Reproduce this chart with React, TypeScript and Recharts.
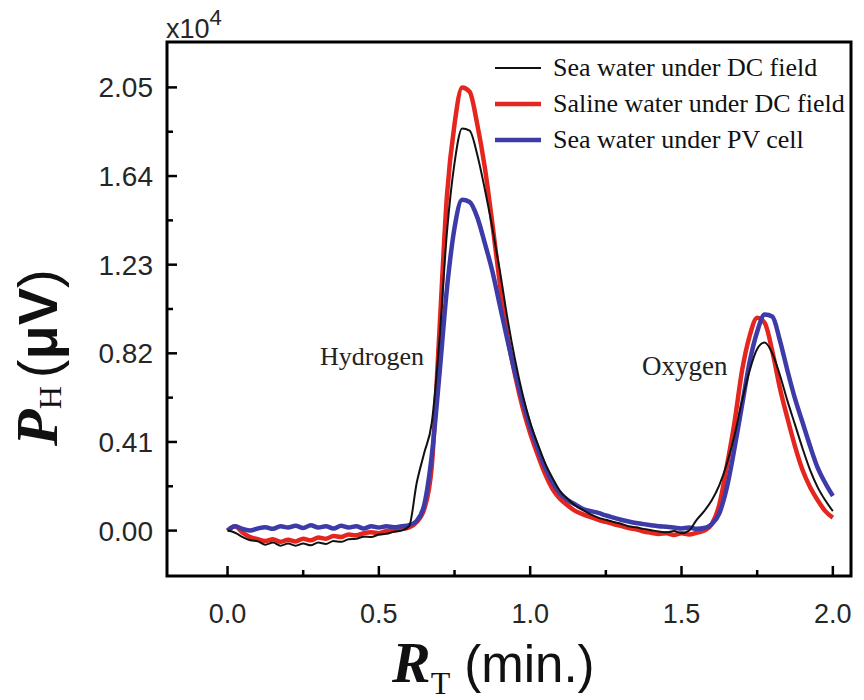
import { LineChart, Line, XAxis, YAxis, ReferenceArea, Legend } from "recharts";

// retention time (min.)
const RT_MIN = [
  0, 0.025, 0.05, 0.075, 0.1, 0.125, 0.15, 0.175, 0.2, 0.225, 0.25, 0.275, 0.3, 0.325, 0.35, 0.375,
  0.4, 0.425, 0.45, 0.475, 0.5, 0.525, 0.55, 0.575, 0.6, 0.625, 0.65, 0.675, 0.7, 0.725, 0.75, 0.775,
  0.8, 0.825, 0.85, 0.875, 0.9, 0.925, 0.95, 0.975, 1, 1.025, 1.05, 1.075, 1.1, 1.125, 1.15, 1.175,
  1.2, 1.225, 1.25, 1.275, 1.3, 1.325, 1.35, 1.375, 1.4, 1.425, 1.45, 1.475, 1.5, 1.525, 1.55, 1.575,
  1.6, 1.625, 1.65, 1.675, 1.7, 1.725, 1.75, 1.775, 1.8, 1.825, 1.85, 1.875, 1.9, 1.925, 1.95, 1.975, 2,
];

// peak height, x10^4 µV
const SEA_DC = [
  0, -0.01, -0.03, -0.045, -0.05, -0.065, -0.055, -0.07, -0.06, -0.07, -0.06, -0.068, -0.055, -0.062, -0.048, -0.052,
  -0.04, -0.038, -0.028, -0.03, -0.018, -0.015, -0.005, 0, 0.02, 0.22, 0.36, 0.5, 0.88, 1.38, 1.7, 1.86,
  1.85, 1.74, 1.58, 1.4, 1.2, 0.98, 0.79, 0.63, 0.5, 0.4, 0.31, 0.24, 0.18, 0.145, 0.115, 0.095,
  0.075, 0.06, 0.05, 0.04, 0.032, 0.02, 0.015, 0.008, 0.002, -0.004, -0.008, -0.002, -0.012, 0, 0.05, 0.09,
  0.14, 0.21, 0.31, 0.44, 0.6, 0.74, 0.84, 0.87, 0.82, 0.72, 0.6, 0.49, 0.38, 0.28, 0.2, 0.14, 0.09,
];

const SALINE_DC = [
  0, 0.02, -0.01, -0.03, -0.04, -0.048, -0.04, -0.052, -0.042, -0.05, -0.038, -0.045, -0.032, -0.038, -0.025, -0.03,
  -0.018, -0.022, -0.012, -0.008, -0.012, -0.002, 0, 0.008, 0.015, 0.04, 0.1, 0.3, 0.92, 1.55, 1.88, 2.05,
  2.03, 1.88, 1.68, 1.42, 1.14, 0.9, 0.72, 0.57, 0.45, 0.35, 0.26, 0.19, 0.145, 0.115, 0.09, 0.075,
  0.062, 0.05, 0.04, 0.03, 0.022, 0.012, 0.006, -0.004, -0.01, -0.016, -0.012, -0.02, -0.012, -0.018, -0.01, 0,
  0.03, 0.12, 0.3, 0.5, 0.74, 0.9, 0.985, 0.96, 0.83, 0.66, 0.52, 0.39, 0.28, 0.2, 0.14, 0.09, 0.06,
];

const SEA_PV = [
  0, 0.02, 0.008, 0, 0.01, 0.016, 0.008, 0.02, 0.014, 0.022, 0.012, 0.025, 0.014, 0.02, 0.01, 0.022,
  0.014, 0.02, 0.01, 0.02, 0.014, 0.02, 0.015, 0.02, 0.025, 0.045, 0.12, 0.35, 0.72, 1.12, 1.4, 1.53,
  1.52, 1.45, 1.33, 1.2, 1.04, 0.88, 0.73, 0.6, 0.48, 0.38, 0.29, 0.22, 0.17, 0.14, 0.12, 0.1,
  0.09, 0.082, 0.07, 0.06, 0.05, 0.042, 0.035, 0.03, 0.025, 0.02, 0.018, 0.014, 0.01, 0.014, 0.008, 0.012,
  0.03, 0.08, 0.2, 0.38, 0.58, 0.78, 0.92, 1, 0.99, 0.88, 0.74, 0.61, 0.5, 0.39, 0.29, 0.22, 0.16,
];

const X_TICKS = [0, 0.25, 0.5, 0.75, 1, 1.25, 1.5, 1.75, 2];
const Y_TICKS = [0, 0.205, 0.41, 0.615, 0.82, 1.025, 1.23, 1.435, 1.64, 1.845, 2.05];

const SERIES = [
  { key: "seaDC", name: "Sea water under DC field", color: "#111111", width: 2 },
  { key: "salineDC", name: "Saline water under DC field", color: "#e5261f", width: 4.5 },
  { key: "seaPV", name: "Sea water under PV cell", color: "#3d3ba8", width: 4.5 },
];
// drawing order: red under blue under black
const DRAW_ORDER = ["salineDC", "seaPV", "seaDC"];

const data = RT_MIN.map((t, i) => ({
  t,
  seaDC: SEA_DC[i],
  salineDC: SALINE_DC[i],
  seaPV: SEA_PV[i],
}));

const SANS = "'Liberation Sans', Arial, sans-serif";
const SERIF = "'Liberation Serif', 'Times New Roman', serif";

function XTick(props: any) {
  const { x, y, index, payload } = props;
  const major = index % 2 === 0;
  return (
    <g>
      <line x1={x} x2={x} y1={y} y2={y - (major ? 10 : 6)} stroke="#000" strokeWidth={2.5} />
      {major && (
        <text x={x} y={y + 47} textAnchor="middle" fontFamily={SANS} fontSize={27} fill="#262626">
          {Number(payload.value).toFixed(1)}
        </text>
      )}
    </g>
  );
}

function YTick(props: any) {
  const { x, y, index, payload } = props;
  const major = index % 2 === 0;
  return (
    <g>
      <line x1={x} x2={x + (major ? 10 : 6)} y1={y} y2={y} stroke="#000" strokeWidth={2.5} />
      {major && (
        <text x={x - 14} y={y} dy="0.36em" textAnchor="end" fontFamily={SANS} fontSize={28} fill="#262626">
          {Number(payload.value).toFixed(2)}
        </text>
      )}
    </g>
  );
}

function LegendBox() {
  return (
    <div style={{ fontFamily: SERIF, fontSize: 26, color: "#111" }}>
      {SERIES.map((s) => (
        <div key={s.key} style={{ display: "flex", alignItems: "center", height: 36 }}>
          <svg width={58} height={12}>
            <line x1={0} x2={46} y1={6} y2={6} stroke={s.color} strokeWidth={s.width} />
          </svg>
          <span style={{ whiteSpace: "nowrap" }}>{s.name}</span>
        </div>
      ))}
    </div>
  );
}

export default function App() {
  return (
    <div style={{ position: "absolute", left: 0, top: 0, width: 864, height: 700, background: "#fff" }}>
      <LineChart width={864} height={700} data={data} margin={{ top: 42, right: 13, left: 0, bottom: 0 }}>
        <XAxis
          dataKey="t"
          type="number"
          domain={[-0.2, 2.06]}
          ticks={X_TICKS}
          interval={0}
          height={124}
          tickSize={0}
          tickMargin={0}
          axisLine={false}
          tickLine={false}
          tick={<XTick />}
          allowDataOverflow
        />
        <YAxis
          type="number"
          domain={[-0.21, 2.26]}
          ticks={Y_TICKS}
          interval={0}
          width={167}
          tickSize={0}
          tickMargin={0}
          axisLine={false}
          tickLine={false}
          tick={<YTick />}
          allowDataOverflow
        />
        {DRAW_ORDER.map((k) => {
          const s = SERIES.find((e) => e.key === k)!;
          return (
            <Line
              key={s.key}
              dataKey={s.key}
              name={s.name}
              type="monotone"
              stroke={s.color}
              strokeWidth={s.width}
              dot={false}
              activeDot={false}
              isAnimationActive={false}
            />
          );
        })}
        <ReferenceArea
          x1={-0.2}
          x2={2.06}
          y1={-0.21}
          y2={2.26}
          fill="none"
          fillOpacity={0}
          stroke="#000"
          strokeWidth={3}
          ifOverflow="visible"
        />
        <Legend
          layout="horizontal"
          verticalAlign="middle"
          align="center"
          content={<LegendBox />}
          wrapperStyle={{ position: "absolute", left: 495, top: 50, width: 369 }}
        />
      </LineChart>
      <svg
        width={864}
        height={700}
        style={{ position: "absolute", left: 0, top: 0, pointerEvents: "none" }}
      >
        <text x={166} y={38} fontFamily={SANS} fontSize={27} fill="#262626">
          x10
          <tspan dy={-13} fontSize={22}>4</tspan>
        </text>
        <text x={320} y={365} fontFamily={SERIF} fontSize={26} fill="#222">Hydrogen</text>
        <text x={642} y={375} fontFamily={SERIF} fontSize={27} fill="#222">Oxygen</text>
        <text x={392} y={682} fill="#111">
          <tspan fontFamily={SERIF} fontWeight="bold" fontStyle="italic" fontSize={58}>R</tspan>
          <tspan fontFamily={SERIF} fontSize={32} dy={12}>T</tspan>
          <tspan fontFamily={SANS} fontSize={51} dy={-12} dx={14}>(min.)</tspan>
        </text>
        <text transform="translate(57 446) rotate(-90)" fill="#111">
          <tspan fontFamily={SERIF} fontWeight="bold" fontStyle="italic" fontSize={60}>P</tspan>
          <tspan fontFamily={SERIF} fontSize={32} dy={4}>H</tspan>
          <tspan fontFamily={SANS} fontSize={56} dy={-4} dx={8}>(</tspan>
          <tspan fontFamily={SANS} fontWeight="bold" fontSize={56}>μV</tspan>
          <tspan fontFamily={SANS} fontSize={56}>)</tspan>
        </text>
      </svg>
    </div>
  );
}
